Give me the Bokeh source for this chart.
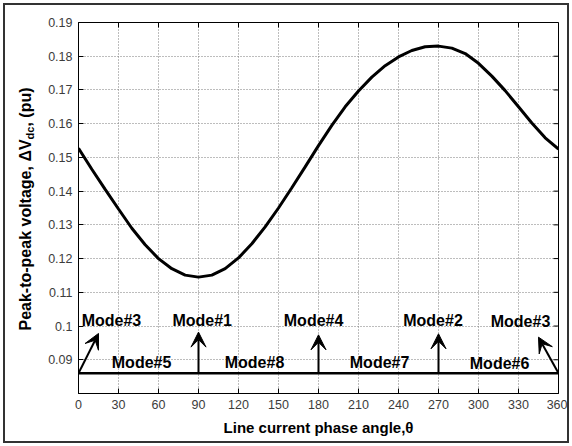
from bokeh.plotting import figure
from bokeh.models import FixedTicker, Arrow, VeeHead, Range1d, ColumnDataSource, Title, Div
from bokeh.layouts import column, row
from bokeh.core.properties import value
from bokeh.embed import file_html
from bokeh.resources import INLINE

# ---- data ----
theta = [0, 10, 20, 30, 40, 50, 60, 70, 80, 90, 100, 110, 120, 130, 140, 150, 160, 170, 180,
         190, 200, 210, 220, 230, 240, 250, 260, 270, 280, 290, 300, 310, 320, 330, 340, 350, 360]
ripple = [0.1527, 0.1465, 0.1405, 0.1347, 0.1290, 0.1241, 0.1200, 0.1170, 0.1151, 0.1145,
          0.1151, 0.1170, 0.1202, 0.1244, 0.1294, 0.1350, 0.1410, 0.1472, 0.1535,
          0.1595, 0.1650, 0.1697, 0.1738, 0.1772, 0.1798, 0.1817, 0.1828, 0.1830,
          0.1824, 0.1808, 0.1779, 0.1741, 0.1698, 0.1650, 0.1602, 0.1558, 0.1525]

x_ticks = [0, 30, 60, 90, 120, 150, 180, 210, 240, 270, 300, 330, 360]
y_ticks = [0.09, 0.10, 0.11, 0.12, 0.13, 0.14, 0.15, 0.16, 0.17, 0.18, 0.19]
y_tick_labels = ["0.09", "0.1", "0.11", "0.12", "0.13", "0.14", "0.15", "0.16", "0.17", "0.18", "0.19"]

baseline_level = 0.086
baseline_x = [0, 360]

top_modes = ["Mode#3", "Mode#1", "Mode#4", "Mode#2", "Mode#3"]
top_mode_x = [24.7, 92.8, 176.3, 265.9, 331.5]
top_mode_y = [0.1015, 0.1015, 0.1015, 0.1015, 0.1013]

bottom_modes = ["Mode#5", "Mode#8", "Mode#7", "Mode#6"]
bottom_mode_x = [47.3, 132.0, 225.8, 315.8]
bottom_mode_y = [0.0891, 0.0891, 0.0891, 0.0890]

arrow_tail_x = [0, 90, 180, 270, 360]
arrow_tip_x = [15, 90, 180, 270, 345]
arrow_tip_y = [0.0978, 0.0982, 0.0974, 0.0977, 0.0967]

x_title = "Line current phase angle,\u03b8"
y_title_main = "Peak-to-peak voltage, \u0394V"
y_title_sub = "dc"
y_title_tail = ", (pu)"

FONT = "Liberation Sans"
X_MIN, X_MAX, Y_MIN, Y_MAX = 0, 360, 0.08, 0.19

p = figure(width=522, height=436, output_backend="svg", toolbar_location=None,
           x_range=Range1d(X_MIN, X_MAX), y_range=Range1d(Y_MIN, Y_MAX),
           min_border_left=33, min_border_right=9, min_border_top=17, min_border_bottom=48,
           background_fill_color="white", border_fill_color="white")

p.outline_line_color = "black"
p.outline_line_width = 1

for ax in (p.xaxis[0], p.yaxis[0]):
    ax.major_tick_in = 5
    ax.major_tick_out = 0
    ax.minor_tick_in = 0
    ax.minor_tick_out = 0
    ax.axis_line_color = "black"
    ax.major_tick_line_color = "black"
    ax.major_label_text_font = FONT
    ax.major_label_text_font_size = "12.5px"
    ax.major_label_text_color = "#3c3c3c"
    ax.axis_label = None

p.xaxis[0].ticker = FixedTicker(ticks=x_ticks)
p.yaxis[0].ticker = FixedTicker(ticks=y_ticks)
p.yaxis[0].major_label_overrides = {t: s for t, s in zip(y_ticks, y_tick_labels)}
p.xaxis[0].major_label_standoff = 6
p.yaxis[0].major_label_standoff = 6

# grid
p.xgrid.ticker = FixedTicker(ticks=x_ticks)
p.ygrid.ticker = FixedTicker(ticks=y_ticks)
for g in (p.xgrid, p.ygrid):
    g.grid_line_color = "#7a7a7a"
    g.grid_line_dash = "1 2"
    g.grid_line_width = 1

# tick marks on the top and right edges (box on)
px_y = 371 / (Y_MAX - Y_MIN)
px_x = 480 / (X_MAX - X_MIN)
tick_len = 5
p.segment(x0=x_ticks, y0=[Y_MAX] * len(x_ticks), x1=x_ticks,
          y1=[Y_MAX - tick_len / px_y] * len(x_ticks), line_color="black", line_width=1)
p.segment(x0=[X_MAX] * len(y_ticks), y0=y_ticks, x1=[X_MAX - tick_len / px_x] * len(y_ticks),
          y1=y_ticks, line_color="black", line_width=1)

# curve
p.line(theta, ripple, line_color="black", line_width=3)

# baseline
p.line(baseline_x, [baseline_level, baseline_level], line_color="black", line_width=2.5)

# arrows
for tx, hx, hy in zip(arrow_tail_x, arrow_tip_x, arrow_tip_y):
    p.add_layout(Arrow(x_start=tx, y_start=baseline_level, x_end=hx, y_end=hy,
                       line_color="black", line_width=2,
                       end=VeeHead(size=15, fill_color="black", line_color="black", line_width=1)))

# mode labels
src_top = ColumnDataSource(dict(x=top_mode_x, y=top_mode_y, t=top_modes))
src_bot = ColumnDataSource(dict(x=bottom_mode_x, y=bottom_mode_y, t=bottom_modes))
for src in (src_top, src_bot):
    p.text(x="x", y="y", text="t", source=src, text_font=value(FONT), text_font_style="bold",
           text_font_size="16px", text_align="center", text_baseline="middle", text_color="black")

# x axis title (slightly left of centre, as in the reference)
p.add_layout(Title(text=x_title, align="center", offset=-30, text_font=FONT,
                   text_font_style="bold", text_font_size="15px", text_color="black"), "below")

# y axis title with subscript, as rotated HTML text
ydiv_html = (
    '<div style="position:relative;width:40px;height:436px;">'
    '<div style="position:absolute;left:22px;top:204px;transform:translate(-50%,-50%) rotate(-90deg);'
    'white-space:nowrap;font-family:\'Liberation Sans\';font-weight:bold;font-size:16px;color:black;'
    'line-height:1;">'
    f'{y_title_main}<sub style="font-size:11px;vertical-align:-3px;">{y_title_sub}</sub>{y_title_tail}'
    '</div></div>'
)
ydiv = Div(text=ydiv_html, width=40, height=436, margin=(0, 0, 0, 0))

layout = column(row(ydiv, p, spacing=0), margin=(3, 3, 3, 3),
                styles={"border": "2px solid #333333", "background": "white"})

open("out.html", "w").write(file_html(layout, INLINE))
